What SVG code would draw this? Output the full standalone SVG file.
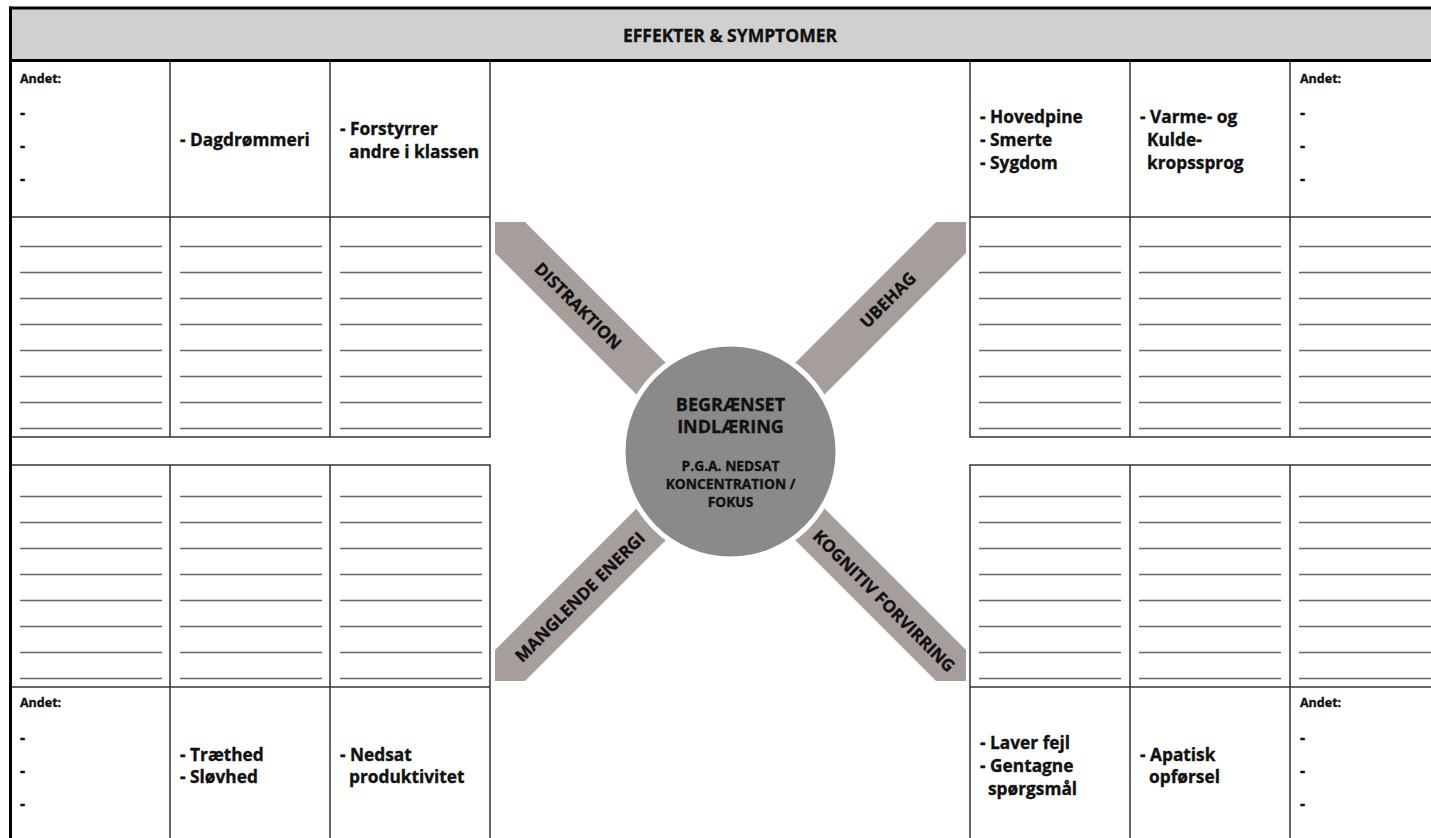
<svg xmlns="http://www.w3.org/2000/svg" width="1431" height="838" viewBox="0 0 1431 838">
<style>
text{font-family:"Open Sans","Liberation Sans",sans-serif;font-weight:700;fill:#111;stroke:#111;stroke-width:0.35}
.grid{stroke:#333;stroke-width:1.5;fill:none}
.rule{stroke:#666;stroke-width:1.3}
.thick{stroke:#000;stroke-width:3}
.arm{fill:#a59e9b}
.t16{font-size:17.3px}
.t11{font-size:12.5px}
.dash{font-size:16px}
.arml{font-size:17px}
</style>
<defs>
<g id="rules">
<line class="rule" x1="0" y1="0" x2="142" y2="0"/>
<line class="rule" x1="0" y1="26" x2="142" y2="26"/>
<line class="rule" x1="0" y1="52" x2="142" y2="52"/>
<line class="rule" x1="0" y1="78" x2="142" y2="78"/>
<line class="rule" x1="0" y1="104" x2="142" y2="104"/>
<line class="rule" x1="0" y1="130" x2="142" y2="130"/>
<line class="rule" x1="0" y1="156" x2="142" y2="156"/>
<line class="rule" x1="0" y1="182" x2="142" y2="182"/>
</g>
</defs>
<rect width="1431" height="838" fill="#fff"/>

<g id="header">
<rect x="12" y="9" width="1419" height="51" fill="#d0d0d0"/>
<line class="thick" x1="9" y1="8" x2="1431" y2="8"/>
<line class="thick" x1="9" y1="60.5" x2="1431" y2="60.5"/>
<text x="730" y="41.5" text-anchor="middle" style="font-size:17.5px">EFFEKTER &amp; SYMPTOMER</text>
</g>

<g id="grid-left">
<line class="grid" x1="170" y1="62" x2="170" y2="437"/>
<line class="grid" x1="330" y1="62" x2="330" y2="437"/>
<line class="grid" x1="490" y1="62" x2="490" y2="437"/>
<line class="grid" x1="170" y1="465" x2="170" y2="838"/>
<line class="grid" x1="330" y1="465" x2="330" y2="838"/>
<line class="grid" x1="490" y1="465" x2="490" y2="838"/>
<line class="grid" x1="12" y1="217" x2="490" y2="217"/>
<line class="grid" x1="12" y1="437" x2="490.7" y2="437"/>
<line class="grid" x1="12" y1="465" x2="490.7" y2="465"/>
<line class="grid" x1="12" y1="687" x2="490" y2="687"/>
<use href="#rules" x="20" y="246.5"/>
<use href="#rules" x="180" y="246.5"/>
<use href="#rules" x="340" y="246.5"/>
<use href="#rules" x="20" y="496.5"/>
<use href="#rules" x="180" y="496.5"/>
<use href="#rules" x="340" y="496.5"/>
<line class="thick" x1="10.5" y1="6.5" x2="10.5" y2="838"/>
</g>

<g id="grid-right">
<line class="grid" x1="970" y1="62" x2="970" y2="437"/>
<line class="grid" x1="1130" y1="62" x2="1130" y2="437"/>
<line class="grid" x1="1290" y1="62" x2="1290" y2="437"/>
<line class="grid" x1="970" y1="465" x2="970" y2="838"/>
<line class="grid" x1="1130" y1="465" x2="1130" y2="838"/>
<line class="grid" x1="1290" y1="465" x2="1290" y2="838"/>
<line class="grid" x1="970" y1="217" x2="1431" y2="217"/>
<line class="grid" x1="969.3" y1="437" x2="1431" y2="437"/>
<line class="grid" x1="969.3" y1="465" x2="1431" y2="465"/>
<line class="grid" x1="970" y1="687" x2="1431" y2="687"/>
<use href="#rules" x="979" y="246.5"/>
<use href="#rules" x="1139" y="246.5"/>
<use href="#rules" x="1299" y="246.5"/>
<use href="#rules" x="979" y="496.5"/>
<use href="#rules" x="1139" y="496.5"/>
<use href="#rules" x="1299" y="496.5"/>
</g>

<g id="cell-tl-andet">
<text class="t11" x="20" y="83">Andet:</text>
<text class="dash" x="20" y="118">-</text>
<text class="dash" x="20" y="151">-</text>
<text class="dash" x="20" y="184">-</text>
</g>
<g id="cell-dagdroemmeri">
<text class="t16" x="180" y="146">- Dagdrømmeri</text>
</g>
<g id="cell-forstyrrer">
<text class="t16" x="340" y="135">- Forstyrrer</text>
<text class="t16" x="349" y="158">andre i klassen</text>
</g>
<g id="cell-hovedpine">
<text class="t16" x="980" y="123">- Hovedpine</text>
<text class="t16" x="980" y="146">- Smerte</text>
<text class="t16" x="980" y="169">- Sygdom</text>
</g>
<g id="cell-varme">
<text class="t16" x="1140" y="123">- Varme- og</text>
<text class="t16" x="1147" y="146">Kulde-</text>
<text class="t16" x="1147" y="169">kropssprog</text>
</g>
<g id="cell-tr-andet">
<text class="t11" x="1300" y="83">Andet:</text>
<text class="dash" x="1300" y="118">-</text>
<text class="dash" x="1300" y="151">-</text>
<text class="dash" x="1300" y="184">-</text>
</g>
<g id="cell-bl-andet">
<text class="t11" x="20" y="707">Andet:</text>
<text class="dash" x="20" y="743">-</text>
<text class="dash" x="20" y="776">-</text>
<text class="dash" x="20" y="809">-</text>
</g>
<g id="cell-traethed">
<text class="t16" x="180" y="761">- Træthed</text>
<text class="t16" x="180" y="783">- Sløvhed</text>
</g>
<g id="cell-nedsat">
<text class="t16" x="340" y="761">- Nedsat</text>
<text class="t16" x="349" y="783">produktivitet</text>
</g>
<g id="cell-laver-fejl">
<text class="t16" x="980" y="749">- Laver fejl</text>
<text class="t16" x="980" y="772">- Gentagne</text>
<text class="t16" x="988" y="795">spørgsmål</text>
</g>
<g id="cell-apatisk">
<text class="t16" x="1140" y="761">- Apatisk</text>
<text class="t16" x="1149" y="783">opførsel</text>
</g>
<g id="cell-br-andet">
<text class="t11" x="1300" y="707">Andet:</text>
<text class="dash" x="1300" y="743">-</text>
<text class="dash" x="1300" y="776">-</text>
<text class="dash" x="1300" y="809">-</text>
</g>

<g id="connectors">
<polygon class="arm" points="495,222 525,222 720,417 689.5,447.5 495,253"/>
<polygon class="arm" points="966,222 936,222 741,417 771.5,447.5 966,253"/>
<polygon class="arm" points="495,681 525,681 720,486 689.5,455.5 495,650"/>
<polygon class="arm" points="966,681 936,681 741,486 771.5,455.5 966,650"/>
</g>

<g id="arm-labels">
<text class="arml" text-anchor="middle" transform="translate(578,306) rotate(45)" y="6">DISTRAKTION</text>
<text class="arml" text-anchor="middle" transform="translate(888,300) rotate(-45)" y="6">UBEHAG</text>
<text class="arml" text-anchor="middle" transform="translate(580,597) rotate(-45)" y="6">MANGLENDE ENERGI</text>
<text class="arml" text-anchor="middle" transform="translate(884,601) rotate(45)" y="6">KOGNITIV FORVIRRING</text>
</g>

<g id="center">
<circle cx="730.5" cy="451.5" r="110" fill="#fff"/>
<circle cx="730.5" cy="451.5" r="105" fill="#8a8a8a"/>
<text x="730.5" y="411" text-anchor="middle" style="font-size:18px">BEGRÆNSET</text>
<text x="730.5" y="433" text-anchor="middle" style="font-size:18px">INDLÆRING</text>
<text x="730.5" y="471" text-anchor="middle" style="font-size:13.8px">P.G.A. NEDSAT</text>
<text x="730.5" y="489" text-anchor="middle" style="font-size:13.8px">KONCENTRATION /</text>
<text x="730.5" y="507" text-anchor="middle" style="font-size:13.8px">FOKUS</text>
</g>
</svg>
